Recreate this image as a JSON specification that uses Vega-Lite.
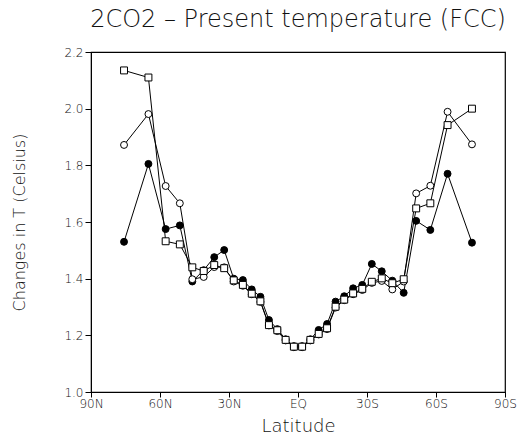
{
  "$schema": "https://vega.github.io/schema/vega-lite/v6.json",
  "width": 414,
  "height": 340,
  "autosize": {"type": "none"},
  "padding": {"left": 91, "top": 52, "right": 18, "bottom": 49},
  "background": "white",
  "title": {
    "text": "2CO2 – Present temperature (FCC)",
    "font": "DejaVu Sans",
    "fontSize": 24,
    "fontWeight": 200,
    "color": "#111",
    "anchor": "middle",
    "offset": 14
  },
  "config": {
    "view": {"stroke": "black", "strokeWidth": 1.2},
    "font": "DejaVu Sans",
    "axis": {
      "grid": false,
      "domainColor": "black",
      "tickColor": "black",
      "labelFont": "DejaVu Sans",
      "titleFont": "DejaVu Sans",
      "labelColor": "#111",
      "titleColor": "#111",
      "labelFontSize": 12,
      "titleFontWeight": 200,
      "labelFontWeight": 300
    }
  },
  "data": {
    "values": [
      {"lat": 75.64, "series": "filled", "value": 1.530},
      {"lat": 65.03, "series": "filled", "value": 1.805},
      {"lat": 57.54, "series": "filled", "value": 1.575},
      {"lat": 51.38, "series": "filled", "value": 1.588},
      {"lat": 45.95, "series": "filled", "value": 1.390},
      {"lat": 41.01, "series": "filled", "value": 1.430},
      {"lat": 36.42, "series": "filled", "value": 1.476},
      {"lat": 32.09, "series": "filled", "value": 1.501},
      {"lat": 27.95, "series": "filled", "value": 1.400},
      {"lat": 23.97, "series": "filled", "value": 1.395},
      {"lat": 20.11, "series": "filled", "value": 1.362},
      {"lat": 16.33, "series": "filled", "value": 1.336},
      {"lat": 12.64, "series": "filled", "value": 1.254},
      {"lat": 8.99, "series": "filled", "value": 1.222},
      {"lat": 5.38, "series": "filled", "value": 1.186},
      {"lat": 1.79, "series": "filled", "value": 1.162},
      {"lat": -1.79, "series": "filled", "value": 1.162},
      {"lat": -5.38, "series": "filled", "value": 1.186},
      {"lat": -8.99, "series": "filled", "value": 1.219},
      {"lat": -12.64, "series": "filled", "value": 1.240},
      {"lat": -16.33, "series": "filled", "value": 1.319},
      {"lat": -20.11, "series": "filled", "value": 1.338},
      {"lat": -23.97, "series": "filled", "value": 1.366},
      {"lat": -27.95, "series": "filled", "value": 1.378},
      {"lat": -32.09, "series": "filled", "value": 1.452},
      {"lat": -36.42, "series": "filled", "value": 1.426},
      {"lat": -41.01, "series": "filled", "value": 1.393},
      {"lat": -45.95, "series": "filled", "value": 1.350},
      {"lat": -51.38, "series": "filled", "value": 1.604},
      {"lat": -57.54, "series": "filled", "value": 1.572},
      {"lat": -65.03, "series": "filled", "value": 1.770},
      {"lat": -75.64, "series": "filled", "value": 1.527},
      {"lat": 75.64, "series": "open", "value": 1.872},
      {"lat": 65.03, "series": "open", "value": 1.981},
      {"lat": 57.54, "series": "open", "value": 1.727},
      {"lat": 51.38, "series": "open", "value": 1.666},
      {"lat": 45.95, "series": "open", "value": 1.398},
      {"lat": 41.01, "series": "open", "value": 1.406},
      {"lat": 36.42, "series": "open", "value": 1.441},
      {"lat": 32.09, "series": "open", "value": 1.440},
      {"lat": 27.95, "series": "open", "value": 1.390},
      {"lat": 23.97, "series": "open", "value": 1.375},
      {"lat": 20.11, "series": "open", "value": 1.345},
      {"lat": 16.33, "series": "open", "value": 1.318},
      {"lat": 12.64, "series": "open", "value": 1.235},
      {"lat": 8.99, "series": "open", "value": 1.215},
      {"lat": 5.38, "series": "open", "value": 1.182},
      {"lat": 1.79, "series": "open", "value": 1.158},
      {"lat": -1.79, "series": "open", "value": 1.158},
      {"lat": -5.38, "series": "open", "value": 1.182},
      {"lat": -8.99, "series": "open", "value": 1.203},
      {"lat": -12.64, "series": "open", "value": 1.222},
      {"lat": -16.33, "series": "open", "value": 1.298},
      {"lat": -20.11, "series": "open", "value": 1.324},
      {"lat": -23.97, "series": "open", "value": 1.345},
      {"lat": -27.95, "series": "open", "value": 1.360},
      {"lat": -32.09, "series": "open", "value": 1.385},
      {"lat": -36.42, "series": "open", "value": 1.392},
      {"lat": -41.01, "series": "open", "value": 1.362},
      {"lat": -45.95, "series": "open", "value": 1.390},
      {"lat": -51.38, "series": "open", "value": 1.701},
      {"lat": -57.54, "series": "open", "value": 1.728},
      {"lat": -65.03, "series": "open", "value": 1.989},
      {"lat": -75.64, "series": "open", "value": 1.874},
      {"lat": 75.64, "series": "square", "value": 2.135},
      {"lat": 65.03, "series": "square", "value": 2.110},
      {"lat": 57.54, "series": "square", "value": 1.532},
      {"lat": 51.38, "series": "square", "value": 1.521},
      {"lat": 45.95, "series": "square", "value": 1.440},
      {"lat": 41.01, "series": "square", "value": 1.427},
      {"lat": 36.42, "series": "square", "value": 1.448},
      {"lat": 32.09, "series": "square", "value": 1.437},
      {"lat": 27.95, "series": "square", "value": 1.394},
      {"lat": 23.97, "series": "square", "value": 1.378},
      {"lat": 20.11, "series": "square", "value": 1.347},
      {"lat": 16.33, "series": "square", "value": 1.320},
      {"lat": 12.64, "series": "square", "value": 1.236},
      {"lat": 8.99, "series": "square", "value": 1.218},
      {"lat": 5.38, "series": "square", "value": 1.184},
      {"lat": 1.79, "series": "square", "value": 1.160},
      {"lat": -1.79, "series": "square", "value": 1.160},
      {"lat": -5.38, "series": "square", "value": 1.184},
      {"lat": -8.99, "series": "square", "value": 1.205},
      {"lat": -12.64, "series": "square", "value": 1.225},
      {"lat": -16.33, "series": "square", "value": 1.301},
      {"lat": -20.11, "series": "square", "value": 1.326},
      {"lat": -23.97, "series": "square", "value": 1.348},
      {"lat": -27.95, "series": "square", "value": 1.364},
      {"lat": -32.09, "series": "square", "value": 1.389},
      {"lat": -36.42, "series": "square", "value": 1.401},
      {"lat": -41.01, "series": "square", "value": 1.384},
      {"lat": -45.95, "series": "square", "value": 1.398},
      {"lat": -51.38, "series": "square", "value": 1.648},
      {"lat": -57.54, "series": "square", "value": 1.666},
      {"lat": -65.03, "series": "square", "value": 1.942},
      {"lat": -75.64, "series": "square", "value": 2.000}
    ]
  },
  "encoding": {
    "x": {
      "field": "lat",
      "type": "quantitative",
      "scale": {"domain": [90, -90], "nice": false, "zero": false},
      "axis": {
        "values": [90, 60, 30, 0, -30, -60, -90],
        "labelExpr": "datum.value == 0 ? 'EQ' : (datum.value > 0 ? datum.value + 'N' : (-datum.value) + 'S')",
        "title": "Latitude",
        "titleFontSize": 18,
        "titlePadding": 8,
        "tickSize": 5,
        "labelPadding": 1,
        "labelFlush": false
      }
    },
    "y": {
      "field": "value",
      "type": "quantitative",
      "scale": {"domain": [1.0, 2.2], "nice": false, "zero": false},
      "axis": {
        "values": [1.0, 1.2, 1.4, 1.6, 1.8, 2.0, 2.2],
        "format": ".1f",
        "title": "Changes in T (Celsius)",
        "titleFontSize": 16,
        "titlePadding": 36,
        "tickSize": 6,
        "labelPadding": 2,
        "labelFlush": false
      }
    }
  },
  "layer": [
    {
      "mark": {"type": "line", "color": "black", "strokeWidth": 1},
      "encoding": {"detail": {"field": "series"}}
    },
    {
      "mark": {"type": "point", "filled": true, "size": 48, "stroke": "black", "strokeWidth": 1, "opacity": 1},
      "encoding": {
        "shape": {"field": "series", "type": "nominal", "scale": {"domain": ["filled", "open", "square"], "range": ["circle", "circle", "square"]}, "legend": null},
        "fill": {"field": "series", "type": "nominal", "scale": {"domain": ["filled", "open", "square"], "range": ["black", "white", "white"]}, "legend": null}
      }
    }
  ]
}
